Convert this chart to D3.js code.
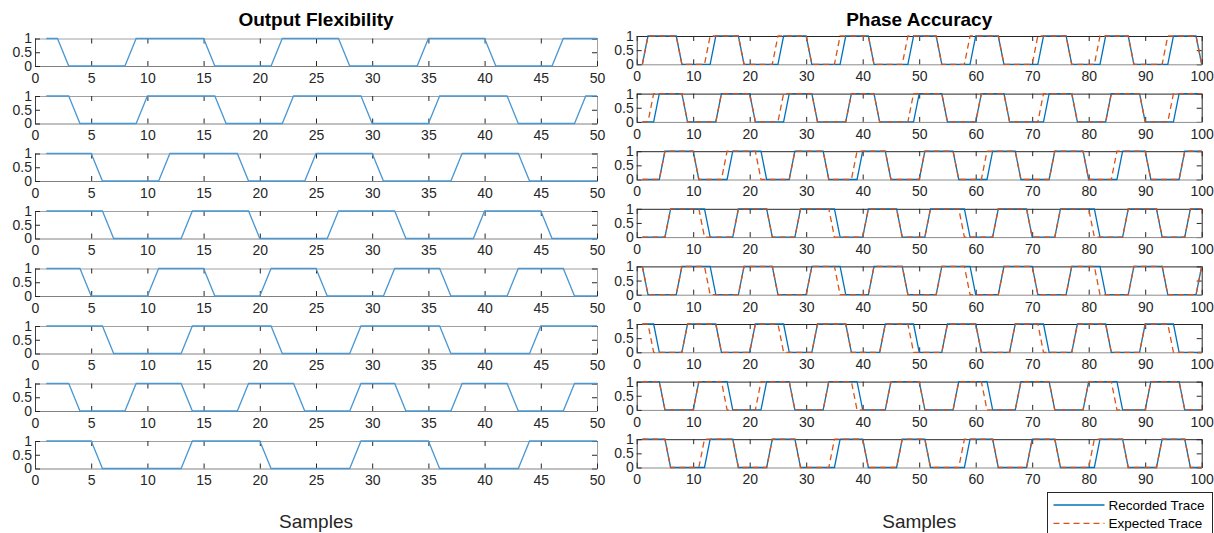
<!DOCTYPE html>
<html>
<head>
<meta charset="utf-8">
<script src="https://cdn.jsdelivr.net/npm/d3@7"></script>
<style>
  body { margin: 0; background: #fff; }
  svg { display: block; font-family: "Liberation Sans", Arial, Helvetica, sans-serif; }
  .tick text { font-size: 14px; fill: #262626; }
</style>
</head>
<body>
<div id="chart"></div>
<script>
// Signals: start level plus the sample index after which the level flips.
var leftStart = [1, 1, 1, 1, 1, 1, 1, 1];
var leftEdges = [
  [2, 8, 15, 21, 27, 34, 40, 46],
  [3, 9, 16, 22, 29, 35, 42, 48],
  [5, 11, 18, 24, 30, 37, 43],
  [6, 13, 19, 26, 32, 39, 45],
  [4, 10, 15, 20, 25, 31, 36, 42, 47],
  [6, 13, 21, 28, 36, 44],
  [3, 8, 13, 18, 23, 28, 32, 37, 42, 47],
  [5, 13, 20, 28, 35, 43],
];

var rightStart = [0, 0, 0, 0, 1, 1, 1, 1];
var recordedEdges = [
  [1, 7, 13, 18, 25, 30, 36, 41, 48, 53, 59, 64, 71, 76, 82, 87, 94, 99],
  [3, 8, 14, 20, 26, 31, 37, 42, 49, 54, 60, 65, 72, 77, 83, 89, 95],
  [4, 10, 16, 22, 27, 33, 39, 44, 50, 56, 62, 67, 73, 79, 85, 90, 96],
  [5, 12, 17, 23, 28, 35, 40, 46, 51, 58, 63, 69, 74, 81, 86, 92, 97],
  [1, 7, 13, 18, 24, 30, 36, 41, 47, 53, 59, 64, 70, 76, 82, 87, 93, 99],
  [3, 8, 14, 20, 26, 31, 37, 43, 49, 54, 60, 66, 72, 77, 83, 89, 95],
  [4, 10, 16, 22, 27, 33, 39, 44, 50, 56, 62, 67, 73, 79, 85, 90, 96],
  [5, 12, 17, 23, 28, 35, 40, 46, 51, 58, 63, 69, 74, 81, 86, 92, 97],
];
var expectedEdges = [
  [1, 7, 12, 18, 24, 30, 35, 41, 47, 53, 58, 64, 70, 76, 81, 87, 93, 99],
  [2, 8, 14, 20, 25, 31, 37, 42, 48, 54, 60, 65, 71, 77, 83, 89, 94],
  [4, 10, 15, 21, 27, 33, 38, 44, 50, 56, 61, 67, 73, 79, 84, 90, 96],
  [5, 11, 17, 23, 28, 34, 40, 46, 51, 57, 63, 69, 74, 80, 86, 92, 97],
  [1, 7, 12, 18, 24, 30, 35, 41, 47, 53, 58, 64, 70, 76, 81, 87, 93, 99],
  [2, 8, 14, 20, 25, 31, 37, 43, 48, 54, 60, 66, 71, 77, 83, 89, 94],
  [4, 10, 15, 21, 27, 33, 38, 44, 50, 56, 61, 67, 73, 79, 84, 90, 96],
  [5, 11, 17, 23, 28, 34, 40, 46, 51, 57, 63, 69, 74, 80, 86, 92, 97],
];

var leftTicksX = [0, 5, 10, 15, 20, 25, 30, 35, 40, 45, 50];
var rightTicksX = [0, 10, 20, 30, 40, 50, 60, 70, 80, 90, 100];
var ticksY = [0, 0.5, 1];
var legendLabels = ["Recorded Trace", "Expected Trace"];

var width = 1214;
var height = 533;

var panels = {
  left: { x0: 35, x1: 597, top: 38.5, step: 57.5, h: 27.5, n: 50, ticks: leftTicksX, title: "Output Flexibility" },
  right: { x0: 636.7, x1: 1201.7, top: 36, step: 57.6, h: 28.3, n: 100, ticks: rightTicksX, title: "Phase Accuracy" },
};

// Turn start level + flip positions into corner points.
function toPoints(start, edges, n) {
  var level = start;
  var pts = [[1, level]];
  edges.forEach(function (e) {
    pts.push([e, level]);
    level = 1 - level;
    pts.push([e + 1, level]);
  });
  pts.push([n, level]);
  return pts;
}

var svg = d3.select("#chart").append("svg").attr("width", width).attr("height", height);
svg.append("rect").attr("width", width).attr("height", height).attr("fill", "#fff");

function drawRow(p, i, frameColor, bottomColor, series) {
  var top = p.top + i * p.step;
  var xScale = d3.scaleLinear().domain([0, p.n]).range([p.x0, p.x1]);
  var yScale = d3.scaleLinear().domain([0, 1]).range([top + p.h, top]);
  var g = svg.append("g");

  // box: top and right, inward ticks
  g.append("g")
    .attr("transform", "translate(0," + top + ")")
    .call(d3.axisTop(xScale).tickValues(p.ticks).tickSizeInner(-5).tickSizeOuter(0).tickFormat(""))
    .call((a) => a.select(".domain").attr("stroke", frameColor))
    .call((a) => a.selectAll(".tick line").attr("stroke", "#262626"));
  g.append("g")
    .attr("transform", "translate(" + p.x1 + ",0)")
    .call(d3.axisRight(yScale).tickValues(ticksY).tickSizeInner(-5).tickSizeOuter(0).tickFormat(""))
    .call((a) => a.select(".domain").attr("stroke", frameColor))
    .call((a) => a.selectAll(".tick line").attr("stroke", "#262626"));

  // labelled axes
  g.append("g")
    .attr("transform", "translate(0," + (top + p.h) + ")")
    .call(d3.axisBottom(xScale).tickValues(p.ticks).tickSizeInner(-5).tickSizeOuter(0).tickPadding(7).tickFormat((d) => d))
    .call((a) => a.select(".domain").attr("stroke", bottomColor))
    .call((a) => a.selectAll(".tick line").attr("stroke", "#262626"));
  g.append("g")
    .attr("transform", "translate(" + p.x0 + ",0)")
    .call(d3.axisLeft(yScale).tickValues(ticksY).tickSizeInner(-5).tickSizeOuter(0).tickPadding(3).tickFormat((d) => d))
    .call((a) => a.select(".domain").attr("stroke", "#404040"))
    .call((a) => a.selectAll(".tick line").attr("stroke", "#262626"));
  g.selectAll(".domain").attr("stroke-width", 1);

  var line = d3.line().x((d) => xScale(d[0])).y((d) => yScale(d[1]));
  series.forEach(function (s) {
    g.append("path")
      .datum(s.points)
      .attr("d", line)
      .attr("fill", "none")
      .attr("stroke", s.color)
      .attr("stroke-width", s.width)
      .attr("stroke-dasharray", s.dash || null);
  });
}

for (var i = 0; i < 8; i++) {
  drawRow(panels.left, i, "#a0a0a0", "#808080", [
    { points: toPoints(leftStart[i], leftEdges[i], 50), color: "#4a98d3", width: 1.3 },
  ]);
  drawRow(panels.right, i, "#262626", "#8c8c8c", [
    { points: toPoints(rightStart[i], recordedEdges[i], 100), color: "#0072BD", width: 1.3 },
    { points: toPoints(rightStart[i], expectedEdges[i], 100), color: "#D95319", width: 1.3, dash: "6,4" },
  ]);
}

// Titles and x labels
[panels.left, panels.right].forEach(function (p) {
  var cx = (p.x0 + p.x1) / 2;
  svg.append("text").attr("x", cx).attr("y", 26).attr("text-anchor", "middle")
    .attr("font-size", 19).attr("font-weight", "bold").attr("fill", "#000").text(p.title);
  svg.append("text").attr("x", cx).attr("y", 528).attr("text-anchor", "middle")
    .attr("font-size", 19).attr("fill", "#262626").text("Samples");
});

// Legend
var legend = svg.append("g").attr("transform", "translate(1047.5,492.5)");
legend.append("rect").attr("width", 165).attr("height", 50).attr("fill", "#fff").attr("stroke", "#262626").attr("stroke-width", 1);
var legendColors = ["#0072BD", "#D95319"];
legendLabels.forEach(function (label, k) {
  var y = 12.5 + k * 18.3;
  legend.append("line").attr("x1", 6).attr("x2", 57).attr("y1", y).attr("y2", y)
    .attr("stroke", legendColors[k]).attr("stroke-width", 1.3).attr("stroke-dasharray", k ? "6,4" : null);
  legend.append("text").attr("x", 61).attr("y", y).attr("dy", "0.35em")
    .attr("font-size", 13.5).attr("fill", "#000").text(label);
});
</script>
</body>
</html>
